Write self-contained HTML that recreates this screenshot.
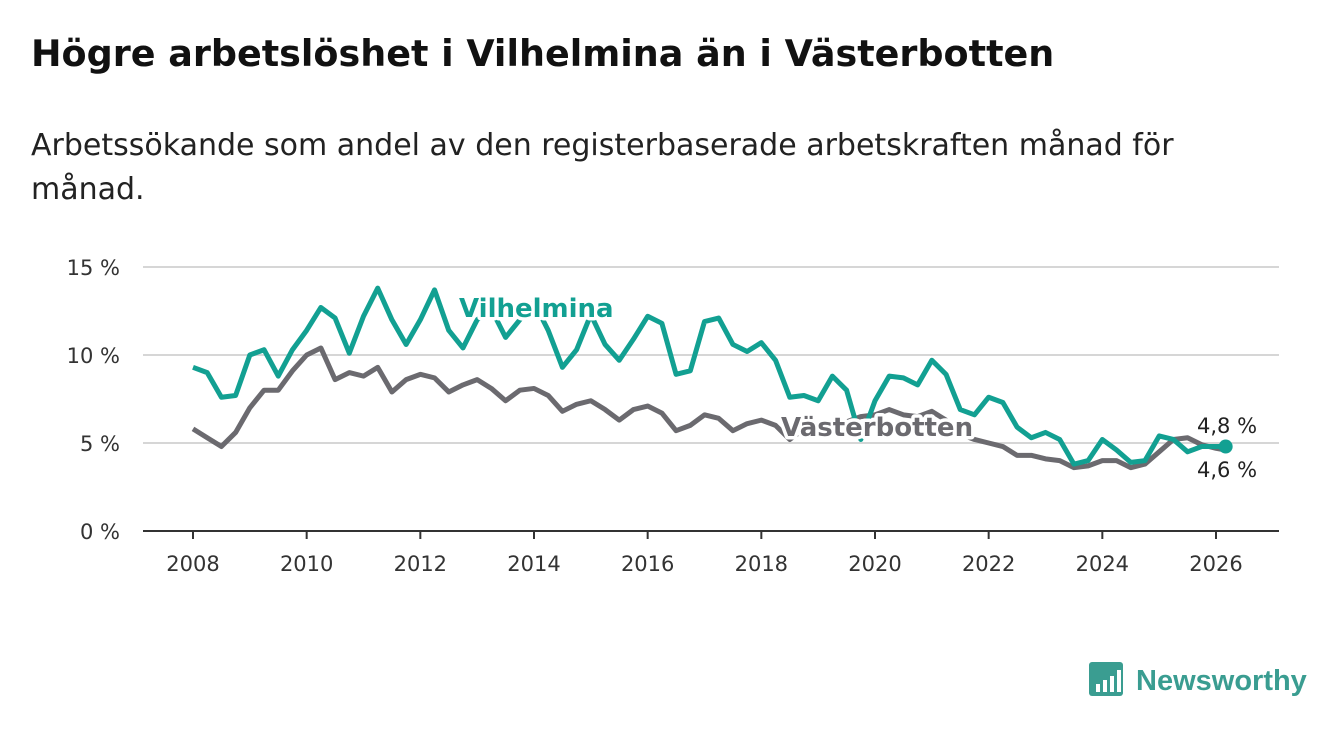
<!DOCTYPE html>
<html><head><meta charset="utf-8"><style>
body{margin:0;background:#fff;width:1340px;height:734px;overflow:hidden;font-family:"DejaVu Sans","Liberation Sans",sans-serif;}
h1{position:absolute;left:31px;top:32px;margin:0;font-size:36.5px;font-weight:bold;color:#111;}
p{position:absolute;left:31px;top:124px;margin:0;font-size:30px;line-height:44px;color:#222;width:1250px;}
svg{position:absolute;left:0;top:0}
</style></head><body>
<h1>Högre arbetslöshet i Vilhelmina än i Västerbotten</h1>
<p>Arbetssökande som andel av den registerbaserade arbetskraften månad för<br>månad.</p>
<svg id="chart" width="1340" height="734"></svg>
<script>
const yTicks=[0,5,10,15];
const xTicks=[2008,2010,2012,2014,2016,2018,2020,2022,2024,2026];
const vil=[9.3,9.0,7.6,7.7,10.0,10.3,8.8,10.3,11.4,12.7,12.1,10.1,12.2,13.8,12.0,10.6,12.0,13.7,11.4,10.4,12.0,12.6,11.0,12.0,13.0,11.4,9.3,10.3,12.3,10.6,9.7,10.9,12.2,11.8,8.9,9.1,11.9,12.1,10.6,10.2,10.7,9.7,7.6,7.7,7.4,8.8,8.0,5.2,7.4,8.8,8.7,8.3,9.7,8.9,6.9,6.6,7.6,7.3,5.9,5.3,5.6,5.2,3.8,4.0,5.2,4.6,3.9,4.0,5.4,5.2,4.5,4.8,4.8,4.8];
const vb=[5.8,5.3,4.8,5.6,7.0,8.0,8.0,9.1,10.0,10.4,8.6,9.0,8.8,9.3,7.9,8.6,8.9,8.7,7.9,8.3,8.6,8.1,7.4,8.0,8.1,7.7,6.8,7.2,7.4,6.9,6.3,6.9,7.1,6.7,5.7,6.0,6.6,6.4,5.7,6.1,6.3,6.0,5.2,5.8,5.5,5.8,6.2,6.5,6.6,6.9,6.6,6.5,6.8,6.3,5.5,5.2,5.0,4.8,4.3,4.3,4.1,4.0,3.6,3.7,4.0,4.0,3.6,3.8,4.5,5.2,5.3,4.9,4.7,4.6];
const years=vil.map((v,i)=>i<73?2008+i*0.25:2026.17);
const X=y=>193+(y-2008)*(1216-193)/18;
const Y=v=>531-v*17.6;
const s=document.getElementById('chart');const NS='http://www.w3.org/2000/svg';
function mk(t,a,txt){const e=document.createElementNS(NS,t);for(const k in a)e.setAttribute(k,a[k]);if(txt!==undefined)e.textContent=txt;s.appendChild(e);return e;}
yTicks.forEach(v=>{
const g=mk('line',{x1:143,x2:1279,y1:Y(v),y2:Y(v),stroke:v?'#d6d6d6':'#333','stroke-width':2});


const t=mk('text',{x:120,y:Y(v)+8,'text-anchor':'end','font-size':21,fill:'#333'},v+' %');


});
xTicks.forEach(v=>{
const l=mk('line',{x1:X(v),x2:X(v),y1:531,y2:539,stroke:'#333','stroke-width':2});


const t=mk('text',{x:X(v),y:571,'text-anchor':'middle','font-size':21,fill:'#333'},v);


});
function line(d,c,n){const p=mk('polyline',{points:d.map((v,i)=>X(years[i])+','+Y(v)).join(' '),fill:'none',stroke:c,'stroke-width':5,'stroke-linejoin':'round'});

}
line(vb,'#6b6a6f','vasterbotten-line');
line(vil,'#12a092','vilhelmina-line');
function lab(x,y,txt,c,n){const t=mk('text',{x:x,y:y,'font-size':26,'font-weight':'bold',fill:c,stroke:'#fff','stroke-width':7,'paint-order':'stroke','stroke-linejoin':'round'},txt);

}
lab(459,317,'Vilhelmina','#12a092','vilhelmina-label');
lab(781,436,'Västerbotten','#6b6a6f','vasterbotten-label');
const dot=mk('circle',{cx:X(2026.17),cy:Y(vil[73]),r:7,fill:'#12a092'});


const e1=mk('text',{x:1197,y:433,'font-size':21,fill:'#222'},'4,8 %');


const e2=mk('text',{x:1197,y:477,'font-size':21,fill:'#222'},'4,6 %');


const lg=mk('rect',{x:1089,y:662,width:34,height:34,rx:3,fill:'#3a9d91'});


[[1096,684],[1103,680],[1110,676],[1117,670]].forEach(b=>{const r=mk('rect',{x:b[0],y:b[1],width:4,height:692-b[1],fill:'#fff'});

});
const lt=mk('text',{x:1136,y:690,'font-size':29,'font-weight':'bold',fill:'#3a9d91','font-family':'Liberation Sans, sans-serif'},'Newsworthy');


</script>
</body></html>
